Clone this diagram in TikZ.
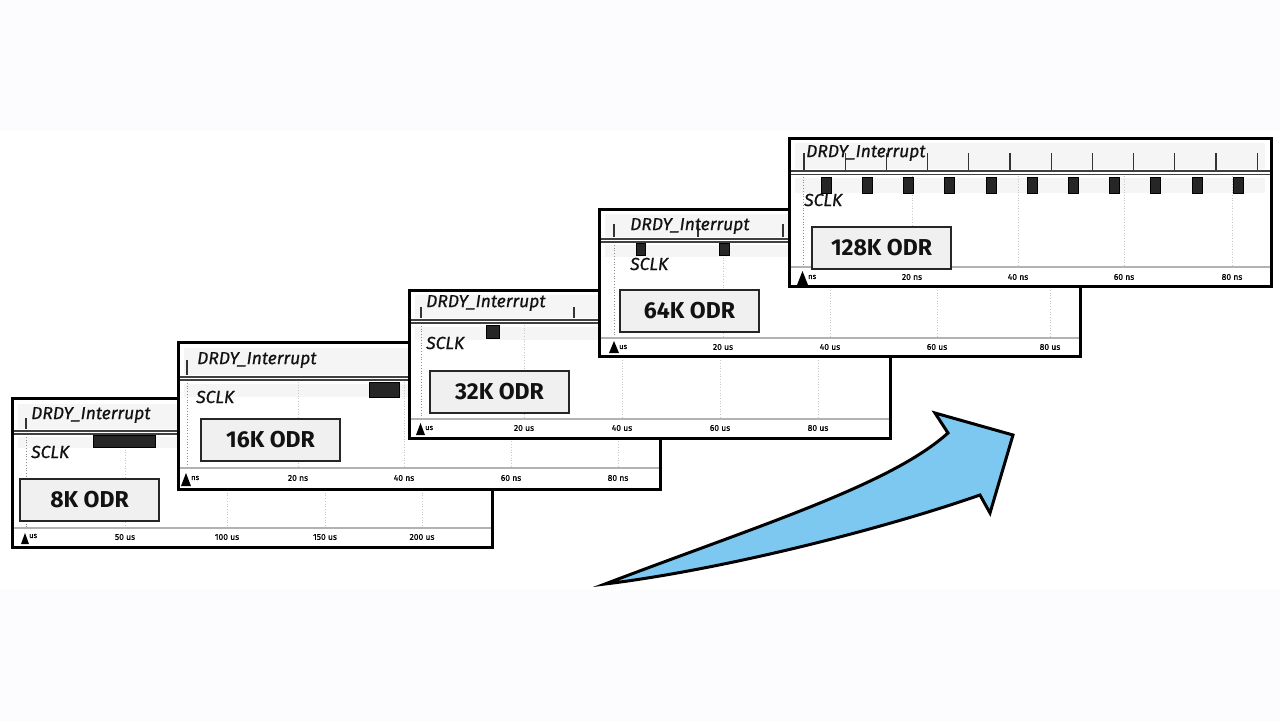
\documentclass[tikz,border=0pt]{standalone}
\usepackage{fontspec}
\setmainfont{Fira Sans}
\newfontfamily\sigfont{Fira Sans}[FakeBold=0.7]
\definecolor{arrowblue}{RGB}{125,200,240}
\definecolor{bandgray}{RGB}{252,252,254}
\definecolor{rowgray}{RGB}{245,245,245}
\definecolor{boxfill}{RGB}{240,240,240}
\definecolor{inkc}{RGB}{18,18,18}
\tikzset{
  frame/.style={draw=black, line width=3pt, fill=white},
  rowband/.style={fill=rowgray, draw=none},
  hdrline/.style={draw=black!75, line width=1.1pt},
  axisline/.style={draw=black!30, line width=1.2pt},
  gridline/.style={draw=black!22, line width=0.7pt, dotted},
  startline/.style={draw=black!45, line width=0.8pt, dotted},
  sigtext/.style={font=\sigfont\fontsize{17.5}{18}\selectfont\itshape, anchor=west, inner sep=0pt, text=inkc},
  odrbox/.style={draw=black!85, line width=2pt, fill=boxfill, font=\fontsize{23}{23}\selectfont\bfseries, text=inkc, minimum width=139pt, minimum height=42pt, inner sep=0pt, anchor=north west},
  ticklbl/.style={font=\sigfont\fontsize{8.5}{9}\selectfont, inner sep=0pt, text=black},
  unitlbl/.style={font=\sigfont\fontsize{7.5}{8}\selectfont, inner sep=0pt, anchor=west, text=black},
  sclkbar/.style={fill=black!85, draw=black, line width=0.5pt},
  itick/.style={draw=black!80, line width=1.2pt},
  startmark/.style={fill=black, draw=none},
  bigarrow/.style={draw=black, line width=3pt, fill=arrowblue, line join=miter},
}
\begin{document}
\begin{tikzpicture}[x=1pt,y=-1pt]
\useasboundingbox (0,0) rectangle (1280,721);
\fill[white] (0,0) rectangle (1280,721);
\fill[bandgray] (0,0) rectangle (1280,130);
\fill[bandgray] (0,590) rectangle (1280,721);

% ---------------- Panel 1 : 8K ----------------
\begin{scope}[shift={(12,398)}]
  \path[frame] (0,0) rectangle (480,149);
  \path[rowband] (6,6) rectangle (474,31);
  \path[rowband] (6,39) rectangle (474,50);
  \foreach \gx in {113,215,313,410} \draw[gridline] (\gx,38) -- (\gx,129);
  \draw[startline] (14,36) -- (14,130);
  \draw[hdrline] (1.5,33) -- (478.5,33);
  \draw[hdrline] (1.5,36) -- (478.5,36);
  \draw[axisline] (1.5,130) -- (478.5,130);
  \draw[itick] (14,20) -- (14,31);
  \path[sclkbar] (81,37) rectangle (143,49);
  \node[sigtext] (p1drdy) at (19,17) {DRDY\_Interrupt};
  \node[sigtext] (p1sclk) at (19,54) {SCLK};
  \node[odrbox] (p1odr) at (7,80) {8K ODR};
  \path[startmark] (9,146) -- (17,146) -- (13,135) -- cycle;
  \node[unitlbl] (p1u) at (17,138) {us};
  \node[ticklbl] (p1t1) at (113,139) {50 us};
  \node[ticklbl] (p1t2) at (215,139) {100 us};
  \node[ticklbl] (p1t3) at (313,139) {150 us};
  \node[ticklbl] (p1t4) at (410,139) {200 us};
\end{scope}

% ---------------- Panel 2 : 16K ----------------
\begin{scope}[shift={(178,342)}]
  \path[frame] (0,0) rectangle (482,147);
  \path[rowband] (6,6) rectangle (476,33);
  \path[rowband] (6,42) rectangle (476,55);
  \foreach \gx in {120,226,333,440} \draw[gridline] (\gx,40) -- (\gx,125);
  \draw[startline] (9,38) -- (9,126);
  \draw[hdrline] (1.5,35) -- (480.5,35);
  \draw[hdrline] (1.5,38) -- (480.5,38);
  \draw[axisline] (1.5,126) -- (480.5,126);
  \draw[itick] (9,18) -- (9,33);
  \path[sclkbar] (191,40) rectangle (221,55);
  \node[sigtext] (p2drdy) at (19,18) {DRDY\_Interrupt};
  \node[sigtext] (p2sclk) at (18,55) {SCLK};
  \node[odrbox] (p2odr) at (22,76) {16K ODR};
  \path[startmark] (3,144) -- (13,144) -- (8,131) -- cycle;
  \node[unitlbl] (p2u) at (13,136) {ns};
  \node[ticklbl] (p2t1) at (120,136) {20 ns};
  \node[ticklbl] (p2t2) at (226,136) {40 ns};
  \node[ticklbl] (p2t3) at (333,136) {60 ns};
  \node[ticklbl] (p2t4) at (440,136) {80 ns};
\end{scope}

% ---------------- Panel 3 : 32K ----------------
\begin{scope}[shift={(409,290)}]
  \path[frame] (0,0) rectangle (481,148);
  \path[rowband] (6,5) rectangle (475,28);
  \path[rowband] (6,37) rectangle (475,50);
  \foreach \gx in {115,213,311,409} \draw[gridline] (\gx,35) -- (\gx,128);
  \draw[startline] (12,33) -- (12,129);
  \draw[hdrline] (1.5,30) -- (479.5,30);
  \draw[hdrline] (1.5,33) -- (479.5,33);
  \draw[axisline] (1.5,129) -- (479.5,129);
  \foreach \tx in {12,165} \draw[itick] (\tx,17) -- (\tx,28);
  \path[sclkbar] (77,35) rectangle (90,48);
  \node[sigtext] (p3drdy) at (17,13) {DRDY\_Interrupt};
  \node[sigtext] (p3sclk) at (17,53) {SCLK};
  \node[odrbox] (p3odr) at (20,80) {32K ODR};
  \path[startmark] (7,145) -- (16,145) -- (11.5,133) -- cycle;
  \node[unitlbl] (p3u) at (16,138) {us};
  \node[ticklbl] (p3t1) at (115,138) {20 us};
  \node[ticklbl] (p3t2) at (213,138) {40 us};
  \node[ticklbl] (p3t3) at (311,138) {60 us};
  \node[ticklbl] (p3t4) at (409,138) {80 us};
\end{scope}

% ---------------- Panel 4 : 64K ----------------
\begin{scope}[shift={(599,209)}]
  \path[frame] (0,0) rectangle (481,147);
  \path[rowband] (6,5) rectangle (475,28);
  \path[rowband] (6,36) rectangle (475,48);
  \foreach \gx in {124,231,338,451} \draw[gridline] (\gx,35) -- (\gx,128);
  \draw[startline] (15,33) -- (15,129);
  \draw[hdrline] (1.5,30) -- (479.5,30);
  \draw[hdrline] (1.5,33) -- (479.5,33);
  \draw[axisline] (1.5,129) -- (479.5,129);
  \foreach \tx in {15,99,184} \draw[itick] (\tx,15) -- (\tx,28);
  \path[sclkbar] (37,34) rectangle (46,46);
  \path[sclkbar] (120,34) rectangle (130,46);
  \node[sigtext] (p4drdy) at (31,17) {DRDY\_Interrupt};
  \node[sigtext] (p4sclk) at (31,55) {SCLK};
  \node[odrbox] (p4odr) at (20,80) {64K ODR};
  \path[startmark] (10,144) -- (20,144) -- (15,132) -- cycle;
  \node[unitlbl] (p4u) at (20,138) {us};
  \node[ticklbl] (p4t1) at (124,138) {20 us};
  \node[ticklbl] (p4t2) at (231,138) {40 us};
  \node[ticklbl] (p4t3) at (338,138) {60 us};
  \node[ticklbl] (p4t4) at (451,138) {80 us};
\end{scope}

% ---------------- Panel 5 : 128K ----------------
\begin{scope}[shift={(789,138)}]
  \path[frame] (0,0) rectangle (482,148);
  \path[rowband] (6,5) rectangle (476,31);
  \path[rowband] (6,40) rectangle (476,55);
  \foreach \gx in {123,229,335,443} \draw[gridline] (\gx,38) -- (\gx,128);
  \draw[startline] (14,36) -- (14,129);
  \draw[hdrline] (1.5,33) -- (480.5,33);
  \draw[hdrline] (1.5,36.5) -- (480.5,36.5);
  \draw[axisline] (1.5,129) -- (480.5,129);
  \foreach \k in {0,...,11} \draw[itick] ({15+41.2*\k},15) -- ({15+41.2*\k},32);
  \foreach \k in {0,...,10} \path[sclkbar] ({32+41.2*\k},39) rectangle ({42+41.2*\k},55);
  \node[sigtext] (p5drdy) at (17,15) {DRDY\_Interrupt};
  \node[sigtext] (p5sclk) at (15,62) {SCLK};
  \node[odrbox] (p5odr) at (22,88) {128K ODR};
  \path[startmark] (8,147) -- (19,147) -- (13.5,133) -- cycle;
  \node[unitlbl] (p5u) at (19,139) {ns};
  \node[ticklbl] (p5t1) at (123,139) {20 ns};
  \node[ticklbl] (p5t2) at (229,139) {40 ns};
  \node[ticklbl] (p5t3) at (335,139) {60 ns};
  \node[ticklbl] (p5t4) at (443,139) {80 ns};
\end{scope}

% ---------------- Big arrow ----------------
\path[bigarrow] (605,584)
  .. controls (760,525) and (890,485) .. (948,433)
  -- (935,413) -- (1013,435) -- (990,513) -- (980,495)
  .. controls (880,530) and (720,570) .. (605,584) -- cycle;
\end{tikzpicture}
\end{document}
